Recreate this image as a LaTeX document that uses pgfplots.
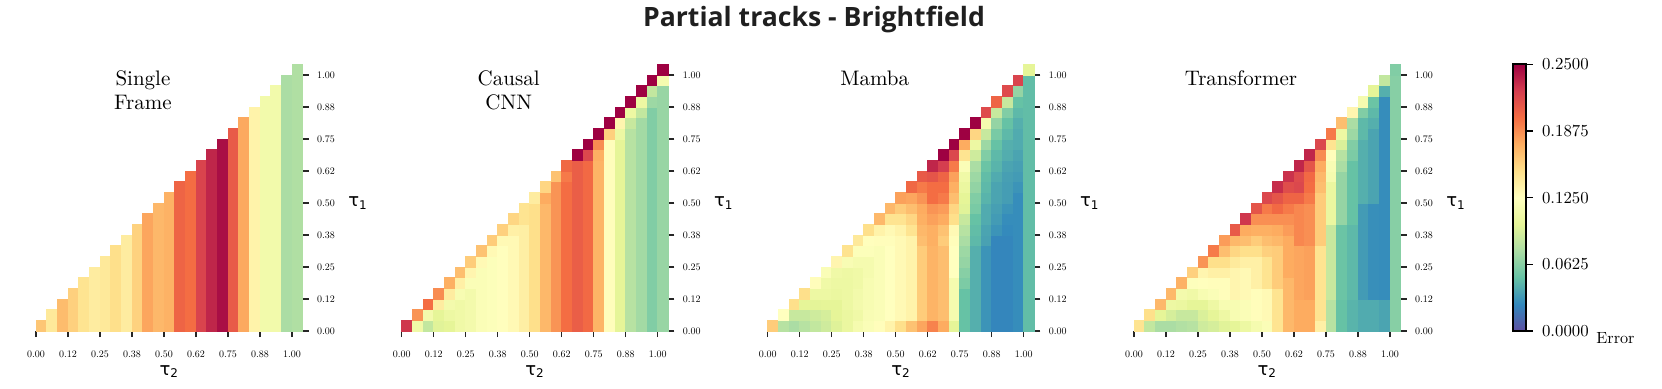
\documentclass[border=0pt]{standalone}
\usepackage{fontspec}
\usepackage{pgfplots}
\usepackage{pgfplotstable}
\pgfplotsset{compat=1.18}
% one design size only, so that small labels are not set in the wide 5pt cut
\setmainfont{lmroman10-regular.otf}
\newfontfamily\dejavu{DejaVu Sans}
\newfontfamily\titlefont{Open Sans}

% values are errors x 1000, one line per tau2 column, r0..r24 = tau1 rows
\pgfplotstableread{
i r0 r1 r2 r3 r4 r5 r6 r7 r8 r9 r10 r11 r12 r13 r14 r15 r16 r17 r18 r19 r20 r21 r22 r23 r24
0  163 nan nan nan nan  nan nan nan nan nan  nan nan nan nan nan  nan nan nan nan nan  nan nan nan nan nan
1  143 143 nan nan nan  nan nan nan nan nan  nan nan nan nan nan  nan nan nan nan nan  nan nan nan nan nan
2  168 168 168 nan nan  nan nan nan nan nan  nan nan nan nan nan  nan nan nan nan nan  nan nan nan nan nan
3  158 158 158 158 nan  nan nan nan nan nan  nan nan nan nan nan  nan nan nan nan nan  nan nan nan nan nan
4  147 147 147 147 147  nan nan nan nan nan  nan nan nan nan nan  nan nan nan nan nan  nan nan nan nan nan
5  140 140 140 140 140  140 nan nan nan nan  nan nan nan nan nan  nan nan nan nan nan  nan nan nan nan nan
6  143 143 143 143 143  143 143 nan nan nan  nan nan nan nan nan  nan nan nan nan nan  nan nan nan nan nan
7  150 150 150 150 150  150 150 150 nan nan  nan nan nan nan nan  nan nan nan nan nan  nan nan nan nan nan
8  140 140 140 140 140  140 140 140 140 nan  nan nan nan nan nan  nan nan nan nan nan  nan nan nan nan nan
9  157 157 157 157 157  157 157 157 157 157  nan nan nan nan nan  nan nan nan nan nan  nan nan nan nan nan
10 178 178 178 178 178  178 178 178 178 178  178 nan nan nan nan  nan nan nan nan nan  nan nan nan nan nan
11 170 170 170 170 170  170 170 170 170 170  170 170 nan nan nan  nan nan nan nan nan  nan nan nan nan nan
12 173 173 173 173 173  173 173 173 173 173  173 173 173 nan nan  nan nan nan nan nan  nan nan nan nan nan
13 205 205 205 205 205  205 205 205 205 205  205 205 205 205 nan  nan nan nan nan nan  nan nan nan nan nan
14 200 200 200 200 200  200 200 200 200 200  200 200 200 200 200  nan nan nan nan nan  nan nan nan nan nan
15 222 222 222 222 222  222 222 222 222 222  222 222 222 222 222  222 nan nan nan nan  nan nan nan nan nan
16 235 235 235 235 235  235 235 235 235 235  235 235 235 235 235  235 235 nan nan nan  nan nan nan nan nan
17 245 245 245 245 245  245 245 245 245 245  245 245 245 245 245  245 245 245 nan nan  nan nan nan nan nan
18 210 210 210 210 210  210 210 210 210 210  210 210 210 210 210  210 210 210 210 nan  nan nan nan nan nan
19 177 177 177 177 177  177 177 177 177 177  177 177 177 177 177  177 177 177 177 177  nan nan nan nan nan
20 135 135 135 135 135  135 135 135 135 135  135 135 135 135 135  135 135 135 135 135  135 nan nan nan nan
21 112 112 112 112 112  112 112 112 112 112  112 112 112 112 112  112 112 112 112 112  112 112 nan nan nan
22 112 112 112 112 112  112 112 112 112 112  112 112 112 112 112  112 112 112 112 112  112 112 112 nan nan
23 75 75 75 75 75  75 75 75 75 75  75 75 75 75 75  75 75 75 75 75  75 75 75 75 nan
24 77 77 77 77 77  77 77 77 77 77  77 77 77 77 77  77 77 77 77 77  77 77 77 77 77
}\single

\pgfplotstableread{
i r0 r1 r2 r3 r4 r5 r6 r7 r8 r9 r10 r11 r12 r13 r14 r15 r16 r17 r18 r19 r20 r21 r22 r23 r24
0  228 nan nan nan nan  nan nan nan nan nan  nan nan nan nan nan  nan nan nan nan nan  nan nan nan nan nan
1  110 185 nan nan nan  nan nan nan nan nan  nan nan nan nan nan  nan nan nan nan nan  nan nan nan nan nan
2  85 113 200 nan nan  nan nan nan nan nan  nan nan nan nan nan  nan nan nan nan nan  nan nan nan nan nan
3  98 100 140 188 nan  nan nan nan nan nan  nan nan nan nan nan  nan nan nan nan nan  nan nan nan nan nan
4  100 107 113 140 174  nan nan nan nan nan  nan nan nan nan nan  nan nan nan nan nan  nan nan nan nan nan
5  110 110 110 117 137  167 nan nan nan nan  nan nan nan nan nan  nan nan nan nan nan  nan nan nan nan nan
6  113 113 113 113 120  133 160 nan nan nan  nan nan nan nan nan  nan nan nan nan nan  nan nan nan nan nan
7  120 120 120 120 120  120 130 165 nan nan  nan nan nan nan nan  nan nan nan nan nan  nan nan nan nan nan
8  122 122 122 122 122  122 122 130 160 nan  nan nan nan nan nan  nan nan nan nan nan  nan nan nan nan nan
9  126 126 126 126 126  126 126 126 130 158  nan nan nan nan nan  nan nan nan nan nan  nan nan nan nan nan
10 130 130 130 130 130  130 130 130 130 137  155 nan nan nan nan  nan nan nan nan nan  nan nan nan nan nan
11 138 138 138 138 138  138 138 138 138 138  147 147 nan nan nan  nan nan nan nan nan  nan nan nan nan nan
12 150 150 150 150 150  150 150 150 150 150  150 150 140 nan nan  nan nan nan nan nan  nan nan nan nan nan
13 170 170 170 170 170  170 170 170 170 170  170 170 176 155 nan  nan nan nan nan nan  nan nan nan nan nan
14 185 185 185 185 185  185 185 185 185 185  185 185 185 185 165  nan nan nan nan nan  nan nan nan nan nan
15 200 200 200 200 200  200 200 200 200 200  200 200 200 200 195  203 nan nan nan nan  nan nan nan nan nan
16 208 208 208 208 208  208 208 208 208 208  208 208 208 208 208  208 250 nan nan nan  nan nan nan nan nan
17 202 202 202 202 202  202 202 202 202 202  202 202 202 202 202  202 220 250 nan nan  nan nan nan nan nan
18 172 172 172 172 172  172 172 172 172 172  172 172 172 172 172  172 174 188 250 nan  nan nan nan nan nan
19 127 127 127 127 127  127 127 127 127 127  127 127 127 127 127  127 127 127 158 250  nan nan nan nan nan
20 100 100 100 100 100  100 100 100 100 100  100 100 100 100 100  100 100 100 107 133  250 nan nan nan nan
21 80 80 80 80 80  80 80 80 80 80  80 80 80 80 80  80 80 80 80 87  107 250 nan nan nan
22 72 72 72 72 72  72 72 72 72 72  72 72 72 72 72  72 72 72 72 72  85 107 250 nan nan
23 60 60 60 60 60  60 60 60 60 60  60 60 60 60 60  60 60 60 60 60  60 70 85 250 nan
24 68 68 68 68 68  68 68 68 68 68  68 68 68 68 68  68 68 68 68 68  68 68 68 115 250
}\causal

\pgfplotstableread{
i r0 r1 r2 r3 r4 r5 r6 r7 r8 r9 r10 r11 r12 r13 r14 r15 r16 r17 r18 r19 r20 r21 r22 r23 r24
0  160 nan nan nan nan  nan nan nan nan nan  nan nan nan nan nan  nan nan nan nan nan  nan nan nan nan nan
1  80 125 nan nan nan  nan nan nan nan nan  nan nan nan nan nan  nan nan nan nan nan  nan nan nan nan nan
2  75 87 150 nan nan  nan nan nan nan nan  nan nan nan nan nan  nan nan nan nan nan  nan nan nan nan nan
3  80 87 100 150 nan  nan nan nan nan nan  nan nan nan nan nan  nan nan nan nan nan  nan nan nan nan nan
4  85 90 99 107 127  nan nan nan nan nan  nan nan nan nan nan  nan nan nan nan nan  nan nan nan nan nan
5  90 93 100 107 110  120 nan nan nan nan  nan nan nan nan nan  nan nan nan nan nan  nan nan nan nan nan
6  97 100 100 105 107  110 133 nan nan nan  nan nan nan nan nan  nan nan nan nan nan  nan nan nan nan nan
7  105 105 107 107 107  108 118 148 nan nan  nan nan nan nan nan  nan nan nan nan nan  nan nan nan nan nan
8  115 110 113 112 110  110 115 122 143 nan  nan nan nan nan nan  nan nan nan nan nan  nan nan nan nan nan
9  120 118 117 117 117  115 115 122 126 150  nan nan nan nan nan  nan nan nan nan nan  nan nan nan nan nan
10 127 120 120 120 120  120 120 120 127 135  170 nan nan nan nan  nan nan nan nan nan  nan nan nan nan nan
11 135 125 125 125 125  125 125 125 127 130  147 170 nan nan nan  nan nan nan nan nan  nan nan nan nan nan
12 150 130 130 130 130  130 130 130 130 135  147 160 180 nan nan  nan nan nan nan nan  nan nan nan nan nan
13 165 135 135 135 135  135 135 135 135 147  155 167 178 203 nan  nan nan nan nan nan  nan nan nan nan nan
14 178 160 160 160 160  160 160 160 167 170  174 176 185 195 210  nan nan nan nan nan  nan nan nan nan nan
15 192 172 172 172 172  172 172 172 174 174  180 185 200 200 213  235 nan nan nan nan  nan nan nan nan nan
16 176 167 167 167 167  167 167 167 160 165  176 182 195 200 205  225 250 nan nan nan  nan nan nan nan nan
17 100 115 115 115 115  125 125 125 127 130  150 155 167 174 180  195 220 250 nan nan  nan nan nan nan nan
18 50 50 50 50 58  62 67 70 75 80  87 98 100 105 110  120 147 176 250 nan  nan nan nan nan nan
19 42 42 42 42 42  42 42 42 46 48  50 57 60 66 70  75 90 107 155 250  nan nan nan nan nan
20 30 30 30 30 30  30 30 30 36 37  40 40 44 46 48  52 60 70 87 115  218 nan nan nan nan
21 24 24 24 24 24  24 24 24 24 30  33 35 37 37 40  44 46 50 57 67  87 205 nan nan nan
22 24 24 24 24 24  24 24 24 24 26  27 30 34 34 35  37 41 42 46 50  60 87 218 nan nan
23 27 27 27 27 27  27 27 27 27 27  27 27 27 30 33  35 37 40 40 42  46 50 67 222 nan
24 48 48 48 48 48  48 48 48 48 48  48 48 48 48 48  48 48 48 48 48  48 48 48 48 100
}\mamba

\pgfplotstableread{
i r0 r1 r2 r3 r4 r5 r6 r7 r8 r9 r10 r11 r12 r13 r14 r15 r16 r17 r18 r19 r20 r21 r22 r23 r24
0  147 nan nan nan nan  nan nan nan nan nan  nan nan nan nan nan  nan nan nan nan nan  nan nan nan nan nan
1  85 150 nan nan nan  nan nan nan nan nan  nan nan nan nan nan  nan nan nan nan nan  nan nan nan nan nan
2  75 100 170 nan nan  nan nan nan nan nan  nan nan nan nan nan  nan nan nan nan nan  nan nan nan nan nan
3  75 93 107 170 nan  nan nan nan nan nan  nan nan nan nan nan  nan nan nan nan nan  nan nan nan nan nan
4  78 87 105 113 173  nan nan nan nan nan  nan nan nan nan nan  nan nan nan nan nan  nan nan nan nan nan
5  80 87 100 110 123  158 nan nan nan nan  nan nan nan nan nan  nan nan nan nan nan  nan nan nan nan nan
6  90 95 100 117 126  133 185 nan nan nan  nan nan nan nan nan  nan nan nan nan nan  nan nan nan nan nan
7  93 100 108 120 127  137 150 195 nan nan  nan nan nan nan nan  nan nan nan nan nan  nan nan nan nan nan
8  98 108 117 127 127  137 150 167 182 nan  nan nan nan nan nan  nan nan nan nan nan  nan nan nan nan nan
9  100 117 117 133 133  133 142 155 170 210  nan nan nan nan nan  nan nan nan nan nan  nan nan nan nan nan
10 107 120 120 130 130  130 137 150 167 176  228 nan nan nan nan  nan nan nan nan nan  nan nan nan nan nan
11 115 127 127 127 137  137 137 150 160 174  187 213 nan nan nan  nan nan nan nan nan  nan nan nan nan nan
12 120 130 130 130 147  147 147 158 167 174  187 195 220 nan nan  nan nan nan nan nan  nan nan nan nan nan
13 147 147 147 147 160  160 160 160 170 176  187 202 213 232 nan  nan nan nan nan nan  nan nan nan nan nan
14 170 170 170 170 170  176 176 176 176 182  187 195 205 217 230  nan nan nan nan nan  nan nan nan nan nan
15 176 176 176 178 178  178 178 178 190 190  190 190 205 220 218  235 nan nan nan nan  nan nan nan nan nan
16 176 176 176 180 180  180 180 180 187 187  187 187 195 200 202  213 235 nan nan nan  nan nan nan nan nan
17 137 147 147 147 147  147 147 147 160 160  160 160 160 167 170  176 188 220 nan nan  nan nan nan nan nan
18 80 80 80 87 87  87 87 87 87 87  105 105 105 105 115  118 127 147 195 nan  nan nan nan nan nan
19 50 50 50 52 52  52 52 52 52 52  67 67 67 67 67  75 80 95 107 167  nan nan nan nan nan
20 44 44 44 46 46  46 46 46 46 46  50 50 50 50 50  50 58 60 70 75  133 nan nan nan nan
21 40 40 40 33 33  33 33 33 33 33  33 33 42 42 42  42 42 42 46 46  60 115 nan nan nan
22 40 40 40 28 28  28 28 28 28 28  28 28 37 37 37  37 37 37 37 42  46 52 100 nan nan
23 37 37 37 27 27  27 27 27 27 27  27 27 27 27 27  27 27 27 27 27  27 27 42 85 nan
24 62 62 62 62 62  62 62 62 62 62  62 62 62 62 62  62 62 62 62 62  62 62 62 62 60
}\transformer

\pgfplotsset{
  colormap={spectralr}{rgb255=(94,79,162) rgb255=(50,136,189) rgb255=(102,194,165)
    rgb255=(171,221,164) rgb255=(230,245,152) rgb255=(255,255,191) rgb255=(254,224,139)
    rgb255=(253,174,97) rgb255=(244,109,67) rgb255=(213,62,79) rgb255=(158,1,66)},
  heat/.style={
    x=5.3333pt, y=5.3333pt,
    xmin=0, xmax=25, ymin=0, ymax=25,
    enlargelimits=false, clip=false,
    axis line style={draw=none},
    xtick={0,3,...,24}, ytick={0,3,...,24},
    xticklabels={0.00,0.12,0.25,0.38,0.50,0.62,0.75,0.88,1.00},
    yticklabels={0.00,0.12,0.25,0.38,0.50,0.62,0.75,0.88,1.00},
    xtick pos=left, ytick pos=right, yticklabel pos=right,
    tick align=outside, major tick length=3pt,
    every tick/.style={black!85, line width=0.65pt},
    tick label style={font=\fontsize{5}{6}\selectfont},
    xticklabel style={yshift=-3.2pt},
    yticklabel style={xshift=0.7pt},
    colormap name=spectralr, point meta min=0, point meta max=250,
  },
  cell/.style={scatter, only marks, mark=square*, mark size=2.6667pt,
    scatter/use mapped color={draw=mapped color, fill=mapped color}},
}

% nan cells (above the diagonal) get a nan y and are dropped
\newcommand\cells[1]{%
  \pgfplotsinvokeforeach{0,...,24}{%
    \addplot[cell, point meta=\thisrow{r##1}, unbounded coords=discard]
      table[x expr=\thisrow{i}+0.5, y expr={##1+0.5+\thisrow{r##1}-\thisrow{r##1}}] {#1};
  }%
}
\newcommand\taulabels{%
  \node[anchor=base, inner sep=0pt, font=\dejavu\fontsize{9}{10}\selectfont]
    at (axis cs:12.5,-4.125) {τ\textsubscript{2}};
  \node[anchor=base, inner sep=0pt, font=\dejavu\fontsize{9}{10}\selectfont]
    at (axis cs:30.2,11.65) {τ\textsubscript{1}};
}
\newcommand\paneltitle[1]{%
  \node[anchor=north, align=center, inner sep=0pt, font=\fontsize{10.5}{12}\selectfont]
    at (axis cs:10.03,24.4) {#1};
}

\begin{document}
\begin{tikzpicture}
\path[use as bounding box] (0,0) rectangle (831pt,194pt);

\node[anchor=base, inner sep=0pt, font=\titlefont\bfseries\fontsize{13.3}{16}\selectfont, text=black!88]
  at (407pt,181pt) {Partial tracks - Brightfield};

\begin{axis}[heat, at={(18pt,28.5pt)}, anchor=south west]
\cells{\single}
\paneltitle{Single\\Frame}
\taulabels
\end{axis}

\begin{axis}[heat, at={(200.85pt,28.5pt)}, anchor=south west]
\cells{\causal}
\paneltitle{Causal\\CNN}
\taulabels
\end{axis}

\begin{axis}[heat, at={(383.85pt,28.5pt)}, anchor=south west]
\cells{\mamba}
\paneltitle{Mamba}
\taulabels
\end{axis}

\begin{axis}[heat, at={(567pt,28.5pt)}, anchor=south west,
  colorbar,
  colorbar shift/.style={xshift=56pt},
  colorbar style={
    at={(parent axis.south east)}, anchor=south west,
    width=6.65pt, scale only axis,
    ytick={0,62.5,125,187.5,250},
    yticklabels={0.0000,0.0625,0.1250,0.1875,0.2500},
    ytick pos=right, yticklabel pos=right,
    tick label style={font=\fontsize{8.4}{10}\selectfont},
    yticklabel style={font=\fontsize{8.4}{10}\selectfont, xshift=1pt},
    major tick length=3.5pt, tick align=outside,
    every tick/.style={black, line width=0.8pt},
    axis line style={black, line width=1pt},
  }]
\cells{\transformer}
\paneltitle{Transformer}
\taulabels
\end{axis}

\node[anchor=base west, inner sep=0pt, font=\fontsize{8.1}{10}\selectfont]
  at (798pt,22.3pt) {Error};
\end{tikzpicture}
\end{document}
